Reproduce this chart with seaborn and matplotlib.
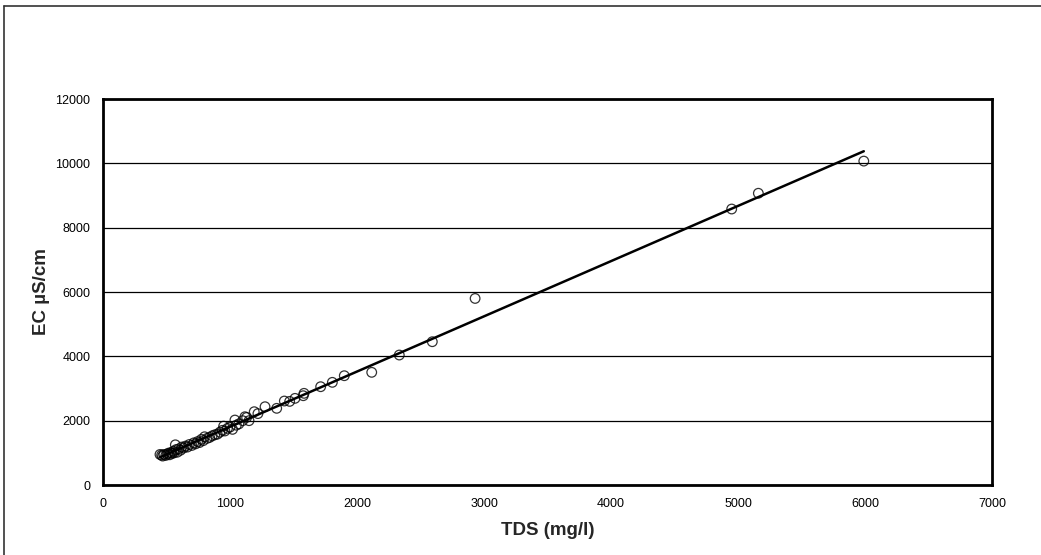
import matplotlib
matplotlib.use("Agg")
import matplotlib.pyplot as plt
import seaborn as sns
import pandas as pd
from matplotlib.lines import Line2D

tds = [449, 462, 470, 480, 495, 505, 515, 525, 535, 545, 555, 560, 570, 575, 585,
       595, 610, 620, 635, 650, 665, 680, 700, 715, 730, 745, 760, 775, 790, 800,
       820, 840, 860, 880, 900, 920, 940, 950, 960, 980, 1000, 1020, 1039, 1050,
       1070, 1100, 1118, 1131, 1150, 1191, 1220, 1276, 1368, 1428, 1470, 1512,
       1577, 1583, 1714, 1806, 1900, 2116, 2333, 2593, 2930, 4950, 5160, 5990]
ec = [950, 930, 900, 950, 920, 960, 990, 940, 1010, 980, 1050, 1000, 1250, 1100, 1020,
      1120, 1080, 1180, 1150, 1210, 1180, 1260, 1230, 1310, 1280, 1350, 1320, 1420, 1380, 1500,
      1450, 1480, 1530, 1560, 1580, 1640, 1700, 1830, 1680, 1760, 1800, 1730, 2020, 1860,
      1900, 2000, 2123, 2100, 2000, 2279, 2220, 2434, 2384, 2611, 2600, 2694,
      2776, 2850, 3056, 3192, 3398, 3503, 4041, 4455, 5800, 8580, 9070, 10070]

df = pd.DataFrame({"TDS": tds, "EC": ec})

sns.set_style("white")
plt.rcParams["font.family"] = ["Liberation Sans", "DejaVu Sans"]

fig = plt.figure(figsize=(10.41, 5.55), dpi=100)
ax = fig.add_axes([0.0989, 0.1261, 0.8541, 0.6955])

sns.regplot(data=df, x="TDS", y="EC", ax=ax, ci=None,
            scatter_kws=dict(s=48, facecolors="none", edgecolors="black", linewidths=0.9),
            line_kws=dict(color="black", lw=1.8), marker="o")

ax.set_xlim(0, 7000)
ax.set_ylim(0, 12000)
ax.set_xticks(range(0, 7001, 1000))
ax.set_yticks(range(0, 12001, 2000))
ax.yaxis.grid(True, color="black", lw=0.9)
ax.set_axisbelow(True)
for s in ax.spines.values():
    s.set_color("black")
    s.set_linewidth(2)
    s.set_visible(True)
ax.tick_params(axis="both", direction="out", length=4, width=1, colors="black",
               labelsize=9, pad=5)
ax.set_xlabel("TDS (mg/l)", fontsize=13.5, fontweight="bold", labelpad=9)
ax.set_ylabel("EC µS/cm", fontsize=13.5, fontweight="bold", labelpad=4)

fig.add_artist(Line2D([0.0036, 0.0036], [0, 0.990], transform=fig.transFigure, color="#333333", lw=1.2))
fig.add_artist(Line2D([0.0036, 1.0], [0.990, 0.990], transform=fig.transFigure, color="#333333", lw=1.2))

fig.savefig("out.png", dpi=100)
